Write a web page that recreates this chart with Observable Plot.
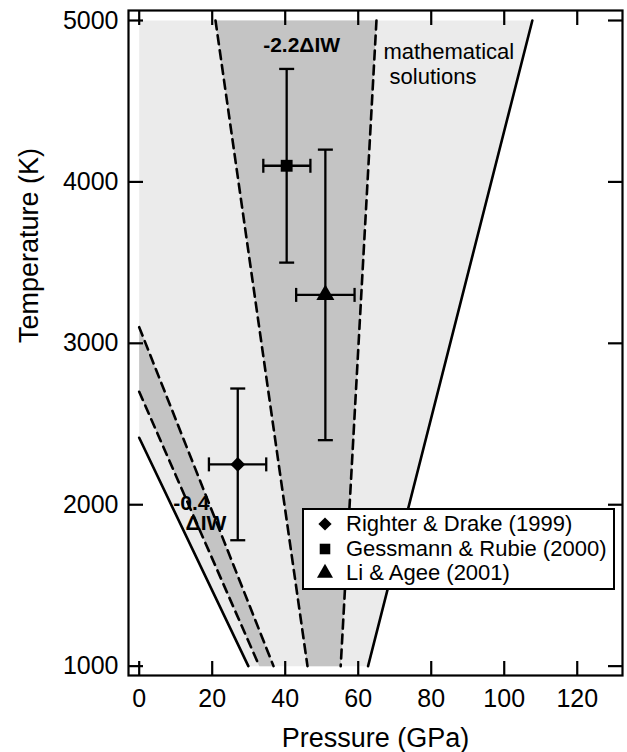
<!DOCTYPE html>
<html>
<head>
<meta charset="utf-8">
<script src="https://cdn.jsdelivr.net/npm/d3@7"></script>
<script src="https://cdn.jsdelivr.net/npm/@observablehq/plot@0.6"></script>
<style>
  body { margin: 0; background: #fff; }
  #wrap { position: relative; width: 627px; height: 752px; font-family: "Liberation Sans", Arial, sans-serif; }
  #legend { position: absolute; left: 302px; top: 508px; width: 313px; height: 82px; box-sizing: border-box;
            border: 2px solid #000; background: #fff; padding: 2px 0 0 12px; }
  #legend .lg-swatches { font-family: "Liberation Sans", Arial, sans-serif; font-size: 22px; margin: 0; color: #000; }
  #legend .lg-swatch { height: 24.5px; padding: 0; display: flex; align-items: center; white-space: nowrap; }
  #legend .lg-swatch > svg { margin-right: 12px; }
</style>
</head>
<body>
<div id="wrap"></div>
<script>
// ---- data ----
const sources = ["Righter & Drake (1999)", "Gessmann & Rubie (2000)", "Li & Agee (2001)"];
const sourceSymbols = ["diamond2", "square", "triangle"];
const pressure = [27, 40.4, 51];
const pressureLow = [19.1, 34.0, 43.0];
const pressureHigh = [34.8, 46.9, 59.0];
const temperature = [2250, 4100, 3300];
const temperatureLow = [1780, 3500, 2400];
const temperatureHigh = [2720, 4700, 4200];

// "mathematical solutions" region (light)
const mathP = [0, 107.7, 62.7, 29.9, 0];
const mathT = [5000, 5000, 1000, 1000, 2415];
// -2.2 ΔIW band
const iw22P = [20.9, 65.0, 55.2, 46.1];
const iw22T = [5000, 5000, 1000, 1000];
// -0.4 ΔIW band
const iw04P = [0, 36.8, 32.9, 0];
const iw04T = [3100, 1000, 1000, 2700];

// boundary lines
const solidLines = [
  {p: [0, 29.9], t: [2415, 1000]},
  {p: [107.7, 62.7], t: [5000, 1000]}
];
const dashedLines = [
  {p: [20.9, 46.1], t: [5000, 1000]},
  {p: [65.0, 55.2], t: [5000, 1000]},
  {p: [0, 36.8], t: [3100, 1000]},
  {p: [0, 32.9], t: [2700, 1000]}
];

// annotations
const boldLabels = ["-2.2ΔIW", "-0.4", "ΔIW"];
const boldLabelP = [44.5, 14.3, 18.3];
const boldLabelT = [4845, 2009, 1885];
const noteLabels = ["mathematical", "solutions"];
const noteLabelP = [66.9, 68.6];
const noteLabelT = [4805, 4650];

const xTicks = [0, 20, 40, 60, 80, 100, 120];
const yTicks = [1000, 2000, 3000, 4000, 5000];
const xLabel = "Pressure (GPa)";
const yLabel = "Temperature (K)";

// ---- build ----
const poly = (P, T) => P.map((p, i) => ({p, t: T[i]}));
const seg = (L) => L.p.map((p, i) => ({p, t: L.t[i]}));
const pts = sources.map((s, i) => ({
  source: s, p: pressure[i], t: temperature[i],
  pLo: pressureLow[i], pHi: pressureHigh[i], tLo: temperatureLow[i], tHi: temperatureHigh[i]
}));

const capH = {draw(ctx) { ctx.moveTo(-7.5, 0); ctx.lineTo(7.5, 0); }};
const capV = {draw(ctx) { ctx.moveTo(0, -7); ctx.lineTo(0, 7); }};

const symScale = {domain: sources, range: sourceSymbols};

const chart = Plot.plot({
  width: 627,
  height: 752,
  marginLeft: 128,
  marginRight: 5,
  marginTop: 10,
  marginBottom: 77,
  style: {fontFamily: "'Liberation Sans', Arial, sans-serif", background: "#fff", color: "#000"},
  x: {domain: [-2.93, 132.4]},
  y: {domain: [942, 5062]},
  symbol: symScale,
  marks: [
    Plot.line(poly(mathP, mathT), {x: "p", y: "t", fill: "#ebebeb", stroke: "none"}),
    Plot.line(poly(iw22P, iw22T), {x: "p", y: "t", fill: "#c4c4c4", stroke: "none"}),
    Plot.line(poly(iw04P, iw04T), {x: "p", y: "t", fill: "#c4c4c4", stroke: "none"}),
    ...solidLines.map(L => Plot.line(seg(L), {x: "p", y: "t", stroke: "#000", strokeWidth: 2.6})),
    ...dashedLines.map(L => Plot.line(seg(L), {x: "p", y: "t", stroke: "#000", strokeWidth: 2.6, strokeDasharray: "9,6"})),
    Plot.ruleX(pts, {x: "p", y1: "tLo", y2: "tHi", stroke: "#000", strokeWidth: 2.3}),
    Plot.ruleY(pts, {y: "t", x1: "pLo", x2: "pHi", stroke: "#000", strokeWidth: 2.3}),
    Plot.dot(pts, {x: "p", y: "tLo", symbol: capH, fill: "none", stroke: "#000", strokeWidth: 2.3}),
    Plot.dot(pts, {x: "p", y: "tHi", symbol: capH, fill: "none", stroke: "#000", strokeWidth: 2.3}),
    Plot.dot(pts, {x: "pLo", y: "t", symbol: capV, fill: "none", stroke: "#000", strokeWidth: 2.3}),
    Plot.dot(pts, {x: "pHi", y: "t", symbol: capV, fill: "none", stroke: "#000", strokeWidth: 2.3}),
    Plot.dot(pts, {x: "p", y: "t", symbol: "source", fill: "#000", stroke: "none", r: 6.7}),
    Plot.text(boldLabels, {x: (d, i) => boldLabelP[i], y: (d, i) => boldLabelT[i], text: d => d,
      fontSize: 21, fontWeight: "bold", fill: "#000"}),
    Plot.text(noteLabels, {x: (d, i) => noteLabelP[i], y: (d, i) => noteLabelT[i], text: d => d,
      fontSize: 22, textAnchor: "start", fill: "#000"}),
    Plot.frame({stroke: "#000", strokeWidth: 2.2}),
    // inward ticks on all four sides
    Plot.axisX(xTicks, {anchor: "bottom", tickSize: -14, tickFormat: () => "", strokeWidth: 2.2, label: null}),
    Plot.axisX(xTicks, {anchor: "top", tickSize: -14, tickFormat: () => "", strokeWidth: 2.2, label: null}),
    Plot.axisY(yTicks, {anchor: "left", tickSize: -15, tickFormat: () => "", strokeWidth: 2.2, label: null}),
    Plot.axisY(yTicks, {anchor: "right", tickSize: -15, tickFormat: () => "", strokeWidth: 2.2, label: null}),
    // tick labels
    Plot.axisX(xTicks, {anchor: "bottom", tickSize: 0, tickPadding: 14, fontSize: 25, tickFormat: d => String(d), label: null}),
    Plot.axisY(yTicks, {anchor: "left", tickSize: 0, tickPadding: 10, fontSize: 25, tickFormat: d => String(d), label: null}),
    // axis titles
    Plot.text([xLabel], {frameAnchor: "bottom", dy: 63, text: d => d, fontSize: 27, lineAnchor: "middle", fill: "#000"}),
    Plot.text([yLabel], {frameAnchor: "left", dx: -99, text: d => d, fontSize: 27, rotate: -90, lineAnchor: "middle", fill: "#000"})
  ]
});

const wrap = document.getElementById("wrap");
wrap.appendChild(chart);

const legendBox = document.createElement("div");
legendBox.id = "legend";
legendBox.appendChild(Plot.legend({
  symbol: symScale,
  fill: "#000",
  stroke: "none",
  r: 5.3,
  swatchSize: 18,
  columns: 1,
  className: "lg"
}));
wrap.appendChild(legendBox);
</script>
</body>
</html>
